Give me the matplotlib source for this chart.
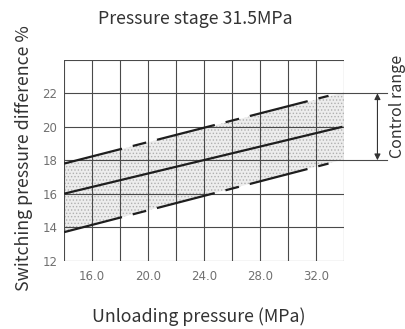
import matplotlib
matplotlib.use("Agg")
import matplotlib.pyplot as plt

plt.rcParams['font.family'] = ['Noto Sans CJK SC', 'DejaVu Sans']
plt.rcParams['lines.scale_dashes'] = False
plt.rcParams['hatch.linewidth'] = 0.6

# unloading pressure (MPa) at both ends of each line
line_x = [14.0, 33.9]
center_y = [16.0, 20.0]
dashed_x = [14.0, 32.9]
upper_y = [17.8, 21.85]
lower_y = [13.7, 17.8]

# shaded band between the dashed limits, running to the right edge
band_x = [14.0, 34.0]
band_top = [17.8, 22.05]
band_bottom = [13.7, 18.05]

# control range bounds (%)
range_lo = 18
range_hi = 22

x_ticks = [16, 20, 24, 28, 32]
y_ticks = [12, 14, 16, 18, 20, 22]

fig = plt.figure(figsize=(4.06, 3.29), dpi=100)
ax = fig.add_axes([0.158, 0.208, 0.689, 0.610])

grid_color = '#4a4a4a'
text_color = '#333333'
ax.set_xlim(14, 34)
ax.set_ylim(12, 24)
for gx in range(14, 35, 2):
    ax.axvline(gx, color=grid_color, lw=0.8, zorder=1)
for gy in range(12, 25, 2):
    ax.axhline(gy, color=grid_color, lw=0.8, zorder=1)

ax.fill_between(band_x, band_bottom, band_top, facecolor='#ededed',
                edgecolor='#b0b0b0', hatch='.....', linewidth=0, zorder=0.5)

ax.plot(line_x, center_y, color='#1e1e1e', lw=1.6, zorder=3,
        solid_capstyle='butt')
for ys in (upper_y, lower_y):
    ln, = ax.plot(dashed_x, ys, color='#1e1e1e', lw=1.6, zorder=3,
                  dash_capstyle='butt')
    ln.set_dashes([43, 8, 10, 8])

# control range marker outside the grid
for yv in (range_lo, range_hi):
    ax.plot([34, 37.05], [yv, yv], color=grid_color, lw=0.8, clip_on=False)
ax.annotate('', xy=(36.4, range_lo), xytext=(36.4, range_hi),
            xycoords='data', annotation_clip=False,
            arrowprops=dict(arrowstyle='<|-|>', color='#333333', lw=0.8,
                            mutation_scale=9, shrinkA=0, shrinkB=0))
ax.text(37.85, 21.2, 'Control range', rotation=90, ha='center', va='center',
        fontsize=11.5, color=text_color, clip_on=False)

ax.set_xticks(x_ticks)
ax.set_xticklabels([f'{v:.1f}' for v in x_ticks], family='DejaVu Sans')
ax.set_yticks(y_ticks)
ax.set_yticklabels([str(v) for v in y_ticks], family='DejaVu Sans')
ax.tick_params(length=0, labelsize=8.5, labelcolor='#707070')
ax.tick_params(axis='x', pad=7)
ax.tick_params(axis='y', pad=5)
for s in ax.spines.values():
    s.set_visible(False)

fig.text(0.4815, 0.942, 'Pressure stage 31.5MPa', ha='center', va='center',
         fontsize=12.8, color=text_color)
fig.text(0.49, 0.039, 'Unloading pressure (MPa)', ha='center', va='center',
         fontsize=12.8, color=text_color)
fig.text(0.058, 0.521, 'Switching pressure difference %', rotation=90,
         ha='center', va='center', fontsize=12.8, color=text_color)

fig.savefig('out.png', dpi=100)
